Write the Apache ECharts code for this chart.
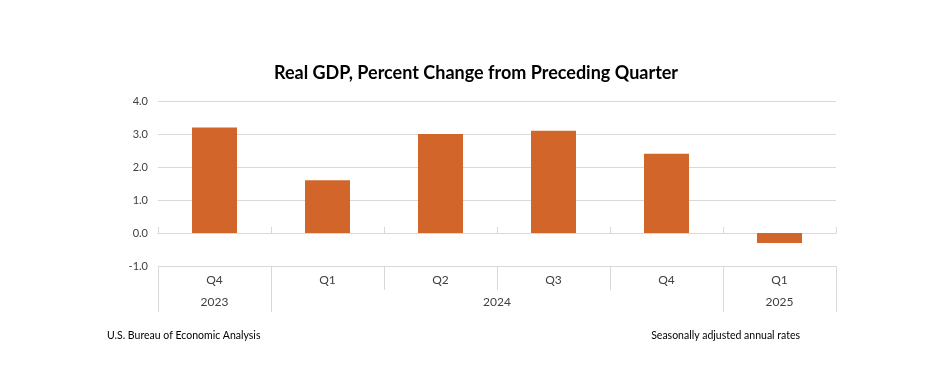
<!DOCTYPE html>
<html>
<head>
<meta charset="utf-8">
<script src="https://cdn.jsdelivr.net/npm/echarts@6/dist/echarts.min.js"></script>
<style>html,body{margin:0;padding:0;background:#fff}#c{width:939px;height:390px}</style>
</head>
<body>
<div id="c"></div>
<script>
const quarters = ['Q4', 'Q1', 'Q2', 'Q3', 'Q4', 'Q1'];
const values = [3.2, 1.6, 3.0, 3.1, 2.4, -0.3];
const years = ['2023', '2024', '2025'];
const yearSpans = [1, 4, 1];
const yTicks = { min: -1, max: 4, interval: 1 };

// year boundaries and label centres on a 0..N value scale
const yearBounds = [0];
const yearCenters = [];
yearSpans.forEach(s => {
  const start = yearBounds[yearBounds.length - 1];
  yearCenters.push(start + s / 2);
  yearBounds.push(start + s);
});

const grey = '#d9d9d9';
const textCol = '#404040';
const font = 'Lato, "Open Sans", sans-serif';

const chart = echarts.init(document.getElementById('c'), null, { renderer: 'canvas' });
chart.setOption({
  animation: false,
  title: [
    {
      text: 'Real GDP, Percent Change from Preceding Quarter',
      left: 476, top: 64, textAlign: 'center', padding: 0,
      textStyle: { fontFamily: font, fontSize: 18, fontWeight: 'bold', color: '#000' }
    },
    {
      text: 'U.S. Bureau of Economic Analysis',
      left: 107, top: 330, padding: 0,
      textStyle: { fontFamily: font, fontSize: 10.5, fontWeight: 'normal', color: '#000' }
    },
    {
      text: 'Seasonally adjusted annual rates',
      right: 139, top: 330, padding: 0,
      textStyle: { fontFamily: font, fontSize: 10.5, fontWeight: 'normal', color: '#000' }
    }
  ],
  grid: { left: 158, right: 103, top: 101, height: 165, containLabel: false },
  yAxis: {
    type: 'value',
    min: yTicks.min, max: yTicks.max, interval: yTicks.interval,
    axisLine: { show: false },
    axisTick: { show: false },
    splitLine: { show: true, lineStyle: { color: grey, width: 1 } },
    axisLabel: {
      margin: 10, color: textCol, fontFamily: font, fontSize: 11,
      formatter: v => v.toFixed(1)
    }
  },
  xAxis: [
    {
      type: 'category',
      data: quarters,
      position: 'bottom',
      axisLine: { show: true, onZero: true, lineStyle: { color: grey, width: 1 } },
      axisTick: { show: true, inside: true, length: 6, alignWithLabel: false, lineStyle: { color: grey } },
      axisLabel: { show: false },
      splitLine: { show: false }
    },
    {
      type: 'category',
      data: quarters,
      position: 'bottom',
      axisLine: { show: false, onZero: false },
      axisTick: { show: true, length: 24, lineStyle: { color: grey } },
      axisLabel: { show: true, margin: 8, color: textCol, fontFamily: font, fontSize: 12 },
      splitLine: { show: false }
    },
    {
      type: 'value',
      min: 0, max: quarters.length,
      position: 'bottom',
      axisLine: { show: false, onZero: false },
      axisTick: { show: true, length: 46, customValues: yearBounds, lineStyle: { color: grey } },
      axisLabel: {
        show: true, margin: 30, color: textCol, fontFamily: font, fontSize: 12,
        customValues: yearCenters,
        formatter: v => years[yearCenters.indexOf(v)] || ''
      },
      splitLine: { show: false }
    }
  ],
  series: [{
    type: 'bar',
    data: values,
    xAxisIndex: 0,
    yAxisIndex: 0,
    barWidth: 45,
    itemStyle: { color: '#D2652A' }
  }]
});
</script>
</body>
</html>
